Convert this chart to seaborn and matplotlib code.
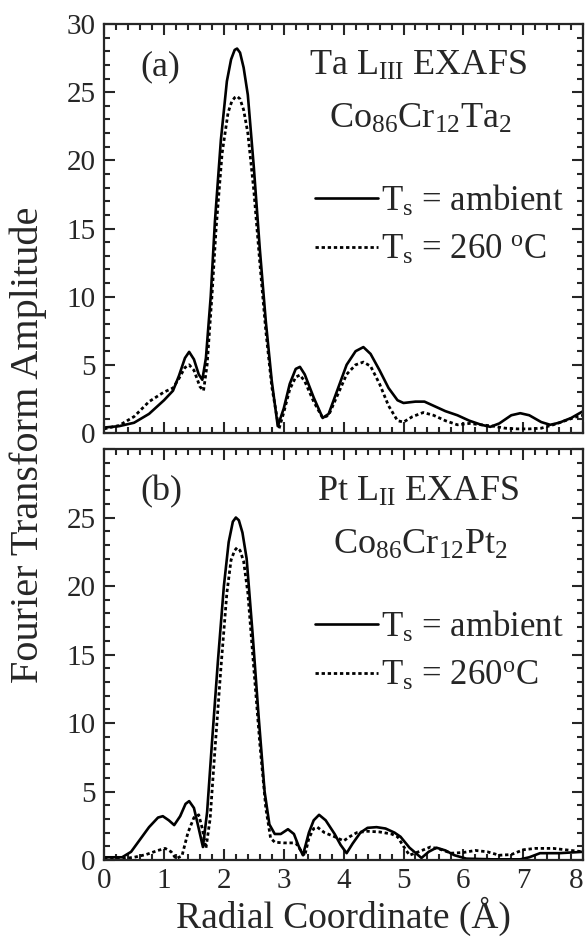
"""
Fourier transform amplitude of Ta L_III and Pt L_II EXAFS, two substrate temperatures
"""

import matplotlib
matplotlib.use("Agg")
import matplotlib.pyplot as plt
import seaborn as sns
from matplotlib.ticker import MultipleLocator

# panel (a): Ta L_III EXAFS, Co86Cr12Ta2
a_amb_r = [0.0, 0.25, 0.5, 0.75, 1.0, 1.15, 1.25, 1.35, 1.42, 1.5, 1.58, 1.64, 1.7,
           1.78, 1.85, 1.95, 2.05, 2.12, 2.18, 2.22, 2.27, 2.33, 2.4, 2.5, 2.6, 2.7,
           2.8, 2.9, 3.0, 3.1, 3.2, 3.27, 3.35, 3.5, 3.65, 3.75, 3.9, 4.05, 4.2,
           4.33, 4.45, 4.6, 4.75, 4.9, 5.0, 5.2, 5.35, 5.5, 5.7, 5.9, 6.1, 6.3,
           6.45, 6.6, 6.8, 6.95, 7.1, 7.3, 7.45, 7.6, 7.8, 8.0]
a_amb_ft = [0.4, 0.5, 0.75, 1.4, 2.4, 3.1, 4.2, 5.5, 5.95, 5.4, 4.3, 3.9, 5.5,
            10.0, 15.5, 21.5, 25.8, 27.4, 28.1, 28.2, 27.9, 26.8, 24.8, 19.5, 13.5, 8.2,
            3.8, 0.5, 1.8, 3.6, 4.7, 4.85, 4.3, 2.6, 1.1, 1.4, 3.2, 5.0, 6.0,
            6.3, 5.8, 4.6, 3.3, 2.4, 2.2, 2.3, 2.3, 2.0, 1.6, 1.3, 0.9, 0.6,
            0.45, 0.7, 1.3, 1.45, 1.3, 0.8, 0.6, 0.75, 1.1, 1.6]

a_260_r = [0.0, 0.25, 0.5, 0.75, 1.0, 1.15, 1.25, 1.35, 1.42, 1.5, 1.6, 1.66, 1.72,
           1.8, 1.87, 1.97, 2.07, 2.13, 2.18, 2.22, 2.27, 2.33, 2.4, 2.5, 2.6, 2.7,
           2.8, 2.92, 3.0, 3.1, 3.2, 3.27, 3.35, 3.5, 3.65, 3.75, 3.9, 4.05, 4.2,
           4.33, 4.45, 4.6, 4.75, 4.9, 5.0, 5.15, 5.33, 5.5, 5.7, 5.9, 6.1, 6.3,
           6.5, 6.7, 6.9, 7.1, 7.3, 7.5, 7.7, 7.9, 8.0]
a_260_ft = [0.3, 0.55, 1.2, 2.3, 3.0, 3.3, 4.0, 4.8, 5.0, 4.6, 3.4, 3.1, 5.0,
            10.0, 15.0, 20.5, 23.5, 24.3, 24.6, 24.7, 24.5, 23.7, 22.0, 17.8, 12.5, 7.5,
            3.4, 0.3, 1.5, 3.2, 4.1, 4.25, 3.8, 2.3, 1.1, 1.3, 2.8, 4.3, 5.0,
            5.2, 4.9, 3.6, 2.0, 0.9, 0.8, 1.2, 1.5, 1.3, 0.9, 0.6, 0.7, 0.6,
            0.5, 0.35, 0.3, 0.3, 0.35, 0.6, 0.9, 1.2, 1.3]

# panel (b): Pt L_II EXAFS, Co86Cr12Pt2
b_amb_r = [0.0, 0.3, 0.45, 0.6, 0.75, 0.9, 0.98, 1.08, 1.17, 1.27, 1.36, 1.42, 1.5,
           1.58, 1.65, 1.72, 1.8, 1.9, 2.0, 2.08, 2.15, 2.2, 2.25, 2.31, 2.38, 2.48,
           2.58, 2.68, 2.76, 2.85, 2.95, 3.07, 3.17, 3.25, 3.32, 3.42, 3.5, 3.59,
           3.7, 3.85, 3.95, 4.05, 4.15, 4.28, 4.4, 4.55, 4.7, 4.85, 4.95, 5.1, 5.3,
           5.42, 5.55, 5.7, 5.85, 6.05, 6.5, 6.95, 7.1, 7.28, 7.6, 8.0]
b_amb_ft = [0.2, 0.2, 0.6, 1.5, 2.4, 3.1, 3.2, 2.9, 2.55, 3.2, 4.1, 4.3, 3.8,
            2.3, 0.95, 3.5, 8.5, 14.5, 20.0, 23.2, 24.7, 25.0, 24.8, 23.9, 22.0, 16.5,
            10.5, 5.0, 2.6, 1.9, 1.9, 2.25, 1.9, 1.0, 0.35, 2.0, 2.9, 3.3,
            2.9, 1.9, 1.1, 0.5, 1.2, 2.0, 2.35, 2.4, 2.3, 2.0, 1.7, 0.9, 0.15,
            0.6, 0.9, 0.7, 0.35, 0.1, 0.05, 0.05, 0.2, 0.5, 0.5, 0.6]

b_260_r = [0.0, 0.3, 0.5, 0.7, 0.9, 1.02, 1.12, 1.2, 1.3, 1.4, 1.5, 1.58, 1.64,
           1.7, 1.77, 1.85, 1.95, 2.05, 2.12, 2.18, 2.22, 2.27, 2.33, 2.4, 2.5, 2.6,
           2.7, 2.78, 2.85, 3.0, 3.2, 3.3, 3.35, 3.42, 3.5, 3.56, 3.68, 3.85, 4.0,
           4.1, 4.22, 4.4, 4.6, 4.8, 4.9, 5.0, 5.1, 5.25, 5.45, 5.6, 5.8, 6.0, 6.2,
           6.4, 6.6, 6.8, 7.0, 7.2, 7.5, 7.7, 8.0]
b_260_ft = [0.1, 0.1, 0.2, 0.4, 0.7, 0.85, 0.6, 0.1, 0.3, 2.0, 3.1, 3.3, 2.3,
            0.85, 3.0, 8.0, 14.0, 19.5, 21.9, 22.6, 22.8, 22.6, 21.8, 19.5, 14.0, 8.5,
            3.8, 1.6, 1.3, 1.25, 1.25, 0.6, 0.3, 1.6, 2.3, 2.4, 2.0, 1.7, 1.4,
            1.7, 2.0, 2.1, 2.05, 1.9, 1.7, 1.0, 0.35, 0.6, 0.95, 0.8, 0.5, 0.55, 0.7,
            0.6, 0.35, 0.4, 0.75, 0.85, 0.85, 0.75, 0.6]

y_ticks = [0, 5, 10, 15, 20, 25, 30]
y_labels_a = ["0", "5", "10", "15", "20", "25", "30"]
y_labels_b = ["0", "5", "10", "15", "20", "25", ""]
x_ticks = [0, 1, 2, 3, 4, 5, 6, 7, 8]

sns.set_theme(style="ticks")
plt.rcParams["font.family"] = ["Liberation Serif", "DejaVu Serif"]
plt.rcParams["mathtext.fontset"] = "custom"
plt.rcParams["mathtext.rm"] = "Liberation Serif"
plt.rcParams["mathtext.it"] = "Liberation Serif:italic"
plt.rcParams["axes.linewidth"] = 1.6

dotted = (0, (1.2, 1.0))

fig = plt.figure(figsize=(5.85, 9.39), dpi=100)
ax_a = fig.add_axes([0.178, 0.5389, 0.8188, 0.4355])
ax_b = fig.add_axes([0.178, 0.0841, 0.8188, 0.4377])

panels = [
    (ax_a, a_amb_r, a_amb_ft, a_260_r, a_260_ft, y_labels_a,
     "(a)", r"Ta $\mathregular{L_{III}}$ EXAFS",
     r"Co$\mathregular{_{86}}$Cr$\mathregular{_{12}}$Ta$\mathregular{_{2}}$",
     r"$\mathregular{T_s}$ = 260 $\mathregular{^o}$C"),
    (ax_b, b_amb_r, b_amb_ft, b_260_r, b_260_ft, y_labels_b,
     "(b)", r"Pt $\mathregular{L_{II}}$ EXAFS",
     r"Co$\mathregular{_{86}}$Cr$\mathregular{_{12}}$Pt$\mathregular{_{2}}$",
     r"$\mathregular{T_s}$ = 260$\mathregular{^o}$C"),
]

for ax, r1, f1, r2, f2, ylabs, tag, edge, alloy, hot_label in panels:
    sns.lineplot(x=r1, y=f1, ax=ax, color="black", lw=1.9,
                 label=r"$\mathregular{T_s}$ = ambient")
    sns.lineplot(x=r2, y=f2, ax=ax, color="black", lw=2.0, linestyle=dotted,
                 label=hot_label)

    ax.set_xlim(0, 8)
    ax.set_ylim(0, 30)
    ax.set_xticks(x_ticks)
    ax.set_yticks(y_ticks)
    ax.set_yticklabels(ylabs)
    ax.xaxis.set_minor_locator(MultipleLocator(0.2))
    ax.yaxis.set_minor_locator(MultipleLocator(1))
    ax.tick_params(which="both", direction="in", top=True, right=True,
                   width=1.5, labelsize=21, pad=6)
    ax.tick_params(which="major", length=8)
    ax.tick_params(which="minor", length=4)
    for s in ax.spines.values():
        s.set_linewidth(1.6)

    ax.text(0.075, 0.875, tag, transform=ax.transAxes, fontsize=26,
            ha="left", va="baseline")
    ax.text(0.655, 0.875, edge, transform=ax.transAxes, fontsize=26,
            ha="center", va="baseline")
    ax.text(0.66, 0.745, alloy, transform=ax.transAxes, fontsize=26,
            ha="center", va="baseline")

    ax.legend(loc="upper right", bbox_to_anchor=(0.96, 0.61), frameon=False,
              fontsize=25, borderpad=0, borderaxespad=0, handlelength=1.8,
              handletextpad=0.1, labelspacing=0.45)
    ax.set_xlabel("")
    ax.set_ylabel("")

ax_a.tick_params(labelbottom=False)
ax_b.set_xticklabels([str(t) for t in x_ticks])
# the last label sits on the figure edge; pull it inside
ax_b.get_xticklabels()[-1].set_horizontalalignment("right")
ax_b.set_xlabel("Radial Coordinate (Å)", fontsize=27, labelpad=2)
fig.text(0.048, 0.526, "Fourier Transform Amplitude", rotation=90,
         fontsize=29, ha="center", va="center")

plt.savefig("out.png", dpi=100)
plt.close()
